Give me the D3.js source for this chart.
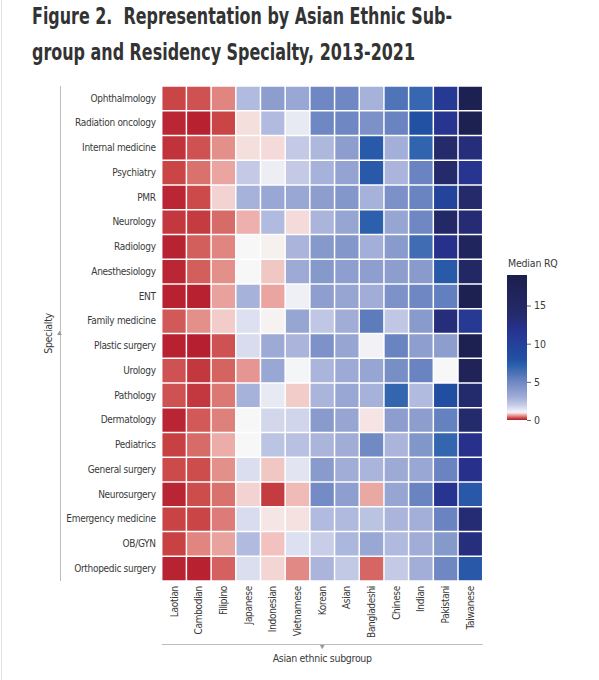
<!DOCTYPE html>
<html>
<head>
<meta charset="utf-8">
<script src="https://cdn.jsdelivr.net/npm/d3@7"></script>
<style>
  body { margin: 0; background: #fff; }
  #chart { width: 599px; height: 680px; }
  text { font-family: "Liberation Sans Narrow", "DejaVu Sans Condensed", "Roboto", sans-serif; }
</style>
</head>
<body>
<div id="chart"></div>
<script>
const specialties = ["Ophthalmology", "Radiation oncology", "Internal medicine", "Psychiatry", "PMR",
    "Neurology", "Radiology", "Anesthesiology", "ENT", "Family medicine", "Plastic surgery", "Urology",
    "Pathology", "Dermatology", "Pediatrics", "General surgery", "Neurosurgery", "Emergency medicine",
    "OB/GYN", "Orthopedic surgery"];

const subgroups = ["Laotian", "Cambodian", "Filipino", "Japanese", "Indonesian", "Vietnamese", "Korean",
    "Asian", "Bangladeshi", "Chinese", "Indian", "Pakistani", "Taiwanese"];

// median RQ, one row per specialty, columns in subgroup order
const medianRQ = [
    [0.25, 0.30, 0.50, 2.5, 3.8, 3.3, 5.0, 5.0, 2.8, 6.0, 6.8, 11.0, 18.0],
    [0.08, 0.05, 0.25, 0.90, 2.5, 1.3, 5.0, 5.0, 4.5, 5.2, 8.0, 11.5, 18.0],
    [0.15, 0.30, 0.55, 0.90, 0.88, 2.0, 2.6, 3.8, 7.5, 2.9, 7.0, 14.0, 13.0],
    [0.25, 0.42, 0.65, 2.0, 1.2, 2.0, 2.8, 3.5, 7.5, 2.7, 5.2, 14.0, 11.5],
    [0.08, 0.27, 0.85, 2.8, 3.3, 3.3, 3.8, 4.1, 2.8, 4.5, 5.2, 9.5, 14.0],
    [0.18, 0.20, 0.40, 0.70, 2.5, 0.88, 2.7, 3.4, 7.2, 3.4, 5.0, 14.5, 13.5],
    [0.06, 0.35, 0.50, 1.0, 0.97, 2.7, 4.0, 4.1, 2.9, 3.9, 6.5, 12.0, 16.0],
    [0.08, 0.35, 0.55, 1.0, 0.80, 3.1, 4.0, 3.7, 3.7, 3.8, 3.9, 7.5, 15.0],
    [0.05, 0.05, 0.63, 2.8, 0.65, 1.15, 3.7, 3.4, 3.0, 4.4, 5.0, 5.4, 18.0],
    [0.33, 0.55, 0.82, 1.5, 0.98, 3.4, 2.1, 3.0, 5.6, 2.1, 3.9, 13.0, 11.0],
    [0.05, 0.04, 0.30, 1.6, 3.1, 2.7, 4.4, 3.4, 1.1, 5.2, 3.7, 3.8, 18.0],
    [0.30, 0.18, 0.37, 0.58, 3.3, 1.05, 2.7, 3.1, 3.4, 4.6, 5.2, 1.0, 17.0],
    [0.30, 0.18, 0.45, 2.8, 1.3, 0.82, 2.7, 3.3, 2.8, 6.9, 2.5, 8.2, 13.8],
    [0.07, 0.33, 0.48, 1.0, 1.7, 1.75, 3.9, 3.4, 0.92, 3.8, 3.8, 5.3, 13.8],
    [0.22, 0.40, 0.68, 1.0, 2.2, 2.3, 2.7, 3.0, 4.9, 2.7, 4.2, 6.9, 12.0],
    [0.27, 0.28, 0.55, 1.55, 0.80, 1.4, 3.9, 3.0, 2.7, 3.1, 3.3, 5.2, 12.0],
    [0.07, 0.28, 0.42, 0.85, 0.20, 0.75, 4.8, 3.7, 0.66, 3.4, 5.2, 11.5, 7.6],
    [0.24, 0.25, 0.46, 1.6, 0.93, 0.91, 2.5, 2.55, 2.25, 2.7, 2.9, 5.2, 13.5],
    [0.23, 0.50, 0.64, 2.5, 0.78, 1.5, 1.9, 2.65, 3.3, 2.55, 3.0, 4.0, 12.8],
    [0.06, 0.05, 0.36, 1.55, 0.86, 0.52, 2.7, 2.05, 0.38, 2.0, 2.95, 5.0, 7.6]
];

const legendTicks = [0, 5, 10, 15];
const legendMax = 19;

// diverging scale, white at RQ = 1
const colorStops = [0, 0.25, 0.5, 0.75, 1, 1.5, 2, 2.5, 3, 3.5, 4, 5, 6, 7, 8, 10, 12, 14, 17, 19];
const colorValues = ["#b2182b", "#ca4545", "#e08580", "#f0bbb7", "#f7f7f7", "#dde0f0", "#c4cae6",
    "#b1bbdf", "#a1acd7", "#94a3d2", "#8699cb", "#6f88c3", "#4f74b8", "#3064ae", "#2250a3",
    "#25409a", "#27318c", "#242a6a", "#1f2358", "#1b1f4c"];

const color = d3.scaleLinear().domain(colorStops).range(colorValues).clamp(true);

const width = 599, height = 680;
const svg = d3.select("#chart").append("svg")
    .attr("width", width)
    .attr("height", height);

svg.append("line")
    .attr("x1", 1.5).attr("x2", 1.5).attr("y1", 0).attr("y2", height)
    .style("stroke", "#e2e2e2");

// title
const titleLines = [
    { text: "Figure 2.\u00a0\u00a0Representation by Asian Ethnic Sub-", y: 24, len: 420 },
    { text: "group and Residency Specialty, 2013-2021", y: 60, len: 383 }
];
svg.selectAll(".title")
    .data(titleLines)
    .enter()
    .append("text")
    .attr("class", "title")
    .attr("x", 32)
    .attr("y", d => d.y)
    .attr("textLength", d => d.len)
    .attr("lengthAdjust", "spacingAndGlyphs")
    .style("font-size", "23px")
    .style("font-weight", "bold")
    .style("fill", "#333")
    .text(d => d.text);

const gridLeft = 161.7, gridRight = 482.7, gridTop = 86, gridBottom = 581;

const xScale = d3.scaleBand().domain(subgroups).range([gridLeft, gridRight]);
const yScale = d3.scaleBand().domain(specialties).range([gridTop, gridBottom]);

const cells = [];
medianRQ.forEach((row, i) => {
    row.forEach((v, j) => cells.push({ specialty: specialties[i], subgroup: subgroups[j], value: v }));
});

svg.append("g")
    .selectAll("rect")
    .data(cells)
    .enter()
    .append("rect")
    .attr("x", d => xScale(d.subgroup) + 0.75)
    .attr("y", d => yScale(d.specialty) + 0.75)
    .attr("width", xScale.bandwidth() - 1.5)
    .attr("height", yScale.bandwidth() - 1.5)
    .style("fill", d => color(d.value));

// row labels
const yAxis = svg.append("g")
    .attr("transform", `translate(${gridLeft},0)`)
    .call(d3.axisLeft(yScale).tickSize(0).tickPadding(6));
yAxis.attr("font-family", null);
yAxis.select(".domain").remove();
yAxis.selectAll("text")
    .style("font-size", "10px")
    .style("letter-spacing", "-0.3px")
    .style("fill", "#3a3a3a");

// column labels
const xAxis = svg.append("g")
    .attr("transform", `translate(0,${gridBottom})`)
    .call(d3.axisBottom(xScale).tickSize(0));
xAxis.attr("font-family", null);
xAxis.select(".domain").remove();
xAxis.selectAll("text")
    .attr("transform", "rotate(-90)")
    .attr("x", -5)
    .attr("y", 0)
    .attr("dy", "0.35em")
    .style("text-anchor", "end")
    .style("font-size", "10px")
    .style("letter-spacing", "-0.3px")
    .style("fill", "#3a3a3a");

// axis titles with guide lines
const midY = (gridTop + gridBottom) / 2, midX = (gridLeft + gridRight) / 2;

svg.append("line")
    .attr("x1", 60.5).attr("x2", 60.5).attr("y1", gridTop).attr("y2", gridBottom)
    .style("stroke", "#bdbdbd");
svg.append("path")
    .attr("d", d3.symbol(d3.symbolTriangle, 10)())
    .attr("transform", `translate(59.5,${midY})`)
    .style("fill", "#999");
svg.append("text")
    .attr("transform", `translate(52,${midY}) rotate(-90)`)
    .style("text-anchor", "middle")
    .style("font-size", "10.5px")
    .style("letter-spacing", "-0.3px")
    .style("fill", "#3a3a3a")
    .text("Specialty");

svg.append("line")
    .attr("x1", gridLeft).attr("x2", gridRight).attr("y1", 644.5).attr("y2", 644.5)
    .style("stroke", "#bdbdbd");
svg.append("path")
    .attr("d", d3.symbol(d3.symbolTriangle, 10)())
    .attr("transform", `translate(${midX},646.5) rotate(180)`)
    .style("fill", "#999");
svg.append("text")
    .attr("x", midX)
    .attr("y", 662)
    .style("text-anchor", "middle")
    .style("font-size", "10.5px")
    .style("letter-spacing", "-0.3px")
    .style("fill", "#3a3a3a")
    .text("Asian ethnic subgroup");

// legend
const legX = 507, legW = 20, legTop = 275, legBottom = 420;
const legScale = d3.scaleLinear().domain([0, legendMax]).range([legBottom, legTop]);

const grad = svg.append("defs").append("linearGradient")
    .attr("id", "rqGrad")
    .attr("x1", "0%").attr("x2", "0%").attr("y1", "100%").attr("y2", "0%");
grad.selectAll("stop")
    .data(d3.range(0, 101))
    .enter()
    .append("stop")
    .attr("offset", d => d + "%")
    .attr("stop-color", d => color(d / 100 * legendMax));

svg.append("rect")
    .attr("x", legX)
    .attr("y", legTop)
    .attr("width", legW)
    .attr("height", legBottom - legTop)
    .style("fill", "url(#rqGrad)");

const legAxis = svg.append("g")
    .attr("transform", `translate(${legX + legW},0)`)
    .call(d3.axisRight(legScale).tickValues(legendTicks).tickSize(4).tickPadding(3));
legAxis.attr("font-family", null);
legAxis.select(".domain").remove();
legAxis.selectAll("line").style("stroke", "#666");
legAxis.selectAll("text")
    .style("font-size", "10.5px")
    .style("fill", "#3a3a3a");

svg.append("text")
    .attr("x", legX + 1)
    .attr("y", 267)
    .style("font-size", "10.5px")
    .style("letter-spacing", "-0.2px")
    .style("fill", "#3a3a3a")
    .text("Median RQ");
</script>
</body>
</html>
